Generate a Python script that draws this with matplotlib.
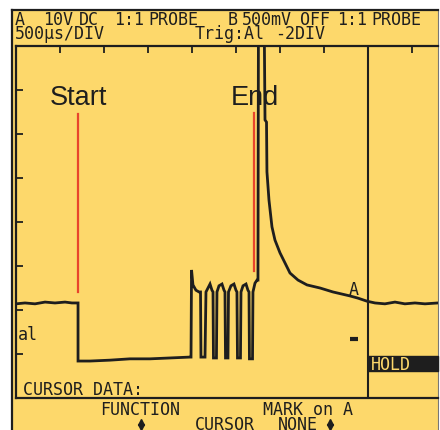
import numpy as np
import matplotlib
matplotlib.use("Agg")
import matplotlib.pyplot as plt
from matplotlib.patches import Rectangle

# Scope trace, channel A (time in us, voltage in V)
trace_t = [0, 102, 216, 330, 443, 557, 636, 705, 705, 841, 1068, 1295, 1523, 1750, 1977, 1989,
           1995, 2011, 2045, 2080,
           2097, 2102, 2148, 2159, 2182, 2205, 2227,
           2239, 2244, 2278, 2284, 2307, 2341, 2364,
           2375, 2381, 2409, 2415, 2443, 2477, 2500,
           2511, 2517, 2551, 2557, 2580, 2614, 2636,
           2648, 2653, 2688, 2693, 2716, 2739, 2750,
           2756, 2818, 2830, 2847, 2852, 2875, 2909, 2943, 3000, 3057, 3114, 3205,
           3307, 3455, 3602, 3795, 3886, 3989, 4080, 4193, 4307, 4420, 4534, 4648, 4796]
trace_v = [13.9, 14.1, 13.9, 14.3, 14.1, 14.3, 14.1, 14.1, 0.9, 0.9, 1.1, 1.4, 1.4, 1.6, 1.8, 1.8,
           21.6, 18.2, 17.0, 16.6,
           16.6, 1.8, 1.8, 16.6, 17.5, 18.4, 17.0,
           16.6, 1.6, 1.6, 16.6, 18.0, 18.4, 17.0,
           16.6, 1.6, 1.6, 16.6, 18.0, 18.4, 17.0,
           16.6, 1.6, 1.6, 16.6, 18.0, 18.4, 17.0,
           16.6, 1.4, 1.4, 16.6, 18.6, 19.3, 19.3,
           85.0, 85.0, 55.7, 55.2, 43.9, 37.5, 31.4, 28.4, 25.5, 23.2, 20.9, 19.3,
           18.2, 17.5, 16.6, 15.7, 15.2, 14.5, 14.1, 13.9, 14.3, 13.9, 14.1, 13.9, 14.1]

# marker lines (time, from V, to V)
start_t, start_v = 705, (16.6, 57.0)
end_t, end_v = 2705, (21.4, 57.3)
cursor_t = 4000
ground_mark = (3841, 5.9)

US_PER_DIV = 500
V_PER_DIV = 10
t_range = (0, 4796)
v_range = (-7.5, 72.5)

YELLOW = "#FDD86B"
INK = "#1e1e1e"
RED = "#E8452C"
MONO = "DejaVu Sans Mono"

W, H = 440, 430
fig = plt.figure(figsize=(W / 100, H / 100), dpi=100, facecolor="white")


def fx(x):
    return x / W


def fy(y):
    return 1 - y / H


# LCD panel background
bg = fig.add_axes([fx(12), 0, fx(426), 420 / H])
bg.set_facecolor(YELLOW)
bg.set_xticks([])
bg.set_yticks([])
bg.spines["bottom"].set_visible(False)
for s in ("left", "top"):
    bg.spines[s].set_linewidth(1.6)
    bg.spines[s].set_color(INK)
bg.spines["right"].set_linewidth(0.8)
bg.spines["right"].set_color("#777777")

# graticule
ax = fig.add_axes([fx(16), fy(398), fx(422), 352 / H])
ax.set_facecolor("none")
ax.set_xlim(*t_range)
ax.set_ylim(*v_range)
ax.set_xticks(np.arange(US_PER_DIV, t_range[1], US_PER_DIV))
ax.set_yticks(np.arange(v_range[0] + V_PER_DIV, v_range[1], V_PER_DIV))
ax.tick_params(axis="x", which="both", direction="in", top=True, bottom=False,
               labeltop=False, labelbottom=False, length=5, width=1.3, color=INK)
ax.tick_params(axis="y", which="both", direction="in", left=True, right=False,
               labelleft=False, length=5, width=1.3, color=INK)
ax.spines["right"].set_visible(False)
for s in ("left", "top", "bottom"):
    ax.spines[s].set_linewidth(1.6)
    ax.spines[s].set_color(INK)

ax.plot(trace_t, trace_v, color=INK, lw=2.0, solid_joinstyle="miter")
ax.axvline(cursor_t, color=INK, lw=1.5)
ax.plot([start_t, start_t], start_v, color=RED, lw=1.6)
ax.plot([end_t, end_t], end_v, color=RED, lw=1.6)
ax.plot(*ground_mark, marker="_", ms=6, mew=3, color=INK)

ax.text(start_t, 59.1, "Start", ha="center", va="baseline", fontsize=19.5,
        family="Liberation Sans", color=INK)
ax.text(2716, 59.1, "End", ha="center", va="baseline", fontsize=19.5,
        family="Liberation Sans", color=INK)
ax.text(3841, 15.9, "A", ha="center", va="baseline", fontsize=12, family=MONO, color=INK)

# LCD text
lcd = [
    (15, 25, "A"), (43, 25, "10V"), (79, 25, "DC"), (114, 25, "1:1"), (148, 25, "PROBE"),
    (228, 25, "B"), (242, 25, "500mV"), (300, 25, "OFF"), (337, 25, "1:1"), (371, 25, "PROBE"),
    (15, 39, "500\u00b5s/DIV"), (195, 39, "Trig:Al"), (275, 39, "-2DIV"),
    (18, 340, "al"), (23, 395, "CURSOR DATA:"),
    (100, 415, "FUNCTION"), (263, 415, "MARK on A"),
    (195, 429.5, "CURSOR"), (278, 429.5, "NONE"),
]
for x, y, s in lcd:
    fig.text(fx(x), fy(y), s, ha="left", va="baseline", fontsize=12, family=MONO, color=INK)

# HOLD indicator
fig.patches.append(Rectangle((fx(368), fy(371)), fx(70), 15 / H,
                             transform=fig.transFigure, color=INK, zorder=5))
fig.text(fx(371), fy(369.5), "HOLD", ha="left", va="baseline", fontsize=12,
         family=MONO, color=YELLOW, zorder=6)

# up/down softkey arrows
for x in (141, 330):
    fig.add_artist(plt.Line2D([fx(x)], [fy(421.5)], marker="^", ms=4.5, color=INK,
                              transform=fig.transFigure))
    fig.add_artist(plt.Line2D([fx(x)], [fy(426.5)], marker="v", ms=4.5, color=INK,
                              transform=fig.transFigure))

fig.savefig("out.png", dpi=100, facecolor="white")
